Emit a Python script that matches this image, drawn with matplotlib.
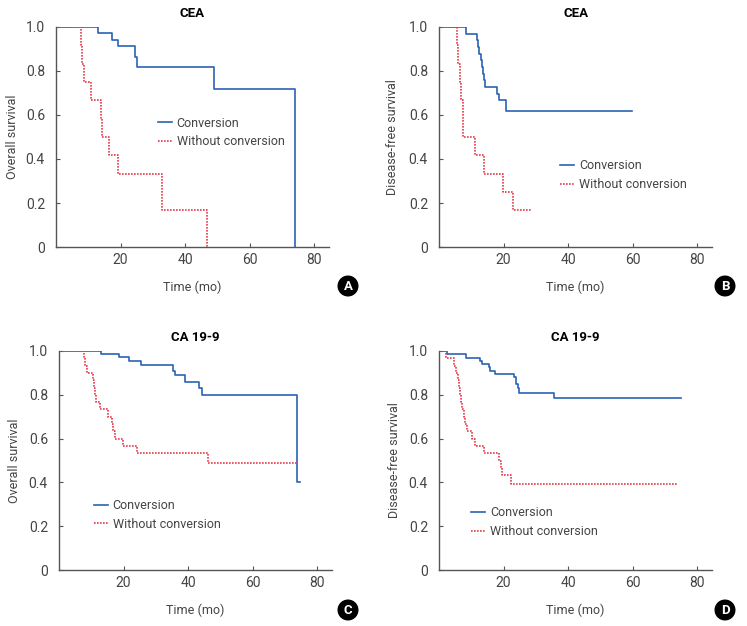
import matplotlib
matplotlib.use("Agg")
from matplotlib import pyplot as plt
from matplotlib.lines import Line2D

plt.rcParams['font.family'] = ['Roboto', 'DejaVu Sans']

# Kaplan-Meier curves (time in months, survival)
a_conv_t = [0, 12.9, 17.4, 19.2, 24.4, 25.1, 49.0, 74.0]
a_conv_s = [1.0, 0.971, 0.941, 0.912, 0.863, 0.82, 0.717, 0.0]
a_wo_t = [0, 7.6, 8.0, 8.7, 10.9, 13.8, 14.3, 16.5, 19.2, 32.8, 46.6]
a_wo_s = [1.0, 0.917, 0.833, 0.75, 0.667, 0.583, 0.5, 0.417, 0.333, 0.167, 0.0]

b_conv_t = [0, 8.3, 11.8, 12.2, 12.5, 12.9, 13.2, 13.5, 13.9, 14.2, 17.8, 18.6, 20.8, 59.8]
b_conv_s = [1.0, 0.97, 0.939, 0.909, 0.879, 0.848, 0.818, 0.788, 0.758, 0.727, 0.697, 0.667, 0.62, 0.62]
b_wo_t = [0, 5.5, 6.0, 6.5, 6.8, 7.3, 7.4, 11.2, 14.0, 19.9, 22.8, 28.8]
b_wo_s = [1.0, 0.917, 0.833, 0.75, 0.667, 0.583, 0.5, 0.417, 0.333, 0.25, 0.167, 0.167]

c_conv_t = [0, 12.9, 18.5, 21.8, 25.4, 35.3, 35.9, 38.9, 43.2, 44.4, 73.8, 74.5]
c_conv_s = [1.0, 0.986, 0.971, 0.955, 0.935, 0.91, 0.89, 0.86, 0.83, 0.80, 0.40, 0.40]
c_wo_t = [0, 7.6, 8.0, 8.6, 10.5, 10.8, 11.1, 11.5, 12.6, 15.3, 16.4, 16.8, 17.2, 19.8, 24.2, 46.2, 73.8]
c_wo_s = [1.0, 0.967, 0.933, 0.9, 0.867, 0.833, 0.8, 0.767, 0.733, 0.7, 0.667, 0.633, 0.6,
          0.567, 0.533, 0.487, 0.487]

d_conv_t = [0, 2.5, 8.3, 12.7, 13.3, 15.4, 15.7, 17.4, 23.1, 23.9, 24.5, 24.9, 35.5, 74.8]
d_conv_s = [1.0, 0.985, 0.97, 0.955, 0.94, 0.925, 0.91, 0.895, 0.88, 0.85, 0.83, 0.81, 0.785, 0.785]
d_wo_t = [0, 2.3, 4.6, 5.4, 5.8, 6.2, 6.5, 6.8, 7.0, 7.7, 8.0, 8.7, 10.1, 11.2, 13.9, 18.5,
          19.1, 19.6, 22.3, 73.6]
d_wo_s = [1.0, 0.967, 0.933, 0.9, 0.867, 0.833, 0.8, 0.767, 0.733, 0.7, 0.667, 0.633, 0.6,
          0.567, 0.533, 0.5, 0.467, 0.433, 0.393, 0.393]

titles = ['CEA', 'CEA', 'CA 19-9', 'CA 19-9']
ylabels = ['Overall survival', 'Disease-free survival', 'Overall survival', 'Disease-free survival']
letters = ['A', 'B', 'C', 'D']
series_labels = ['Conversion', 'Without conversion']
xticks = [20, 40, 60, 80]
yticks = [0, 0.2, 0.4, 0.6, 0.8, 1.0]
yticklabels = ['0', '0.2', '0.4', '0.6', '0.8', '1.0']

blue = '#2b62b5'
red = '#e63b4c'
grey = '#555555'
txt = '#444444'

curves = [(a_conv_t, a_conv_s, a_wo_t, a_wo_s),
          (b_conv_t, b_conv_s, b_wo_t, b_wo_s),
          (c_conv_t, c_conv_s, c_wo_t, c_wo_s),
          (d_conv_t, d_conv_s, d_wo_t, d_wo_s)]

W, H = 747, 626
fig = plt.figure(figsize=(W / 100, H / 100), dpi=100)

# axes boxes in pixels: left, top, right, bottom
boxes = [(56, 27, 329, 247), (439, 27, 712, 247),
         (59, 351, 332, 570), (439, 351, 712, 570)]
legend_pos = [(0.373, 0.52), (0.445, 0.326), (0.128, 0.252), (0.118, 0.218)]
ylabel_x = [-0.135, -0.147, -0.139, -0.139]
letter_pos = [(348, 286), (725, 286), (348, 610), (725, 610)]

for i in range(4):
    l, t, r, b = boxes[i]
    ax = fig.add_axes([l / W, 1 - b / H, (r - l) / W, (b - t) / H])
    ct, cs, wt, ws = curves[i]
    ax.plot(ct, cs, drawstyle='steps-post', color=blue, lw=1.2)
    ax.plot(wt, ws, drawstyle='steps-post', color=red, lw=1.2, linestyle=(0, (1, 0.8)))
    ax.set_xlim(0, 84.5)
    ax.set_ylim(0, 1.0)
    ax.set_xticks(xticks)
    ax.set_yticks(yticks)
    ax.set_yticklabels(yticklabels)
    for s in ['top', 'right']:
        ax.spines[s].set_visible(False)
    for s in ['left', 'bottom']:
        ax.spines[s].set_color(grey)
        ax.spines[s].set_linewidth(1.0)
    ax.tick_params(axis='x', direction='in', length=3, color=grey, labelsize=10,
                   labelcolor=txt, pad=4)
    ax.tick_params(axis='y', direction='in', length=3, color=grey, labelsize=10,
                   labelcolor=txt, pad=8)
    ax.set_title(titles[i], fontsize=9.5, fontweight='bold', pad=7)
    ax.set_xlabel('Time (mo)', fontsize=9, color=txt)
    ax.xaxis.set_label_coords(0.5, -0.155)
    ax.set_ylabel(ylabels[i], fontsize=9, color=txt)
    ax.yaxis.set_label_coords(ylabel_x[i], 0.5)
    handles = [Line2D([], [], color=blue, lw=1.2),
               Line2D([], [], color=red, lw=1.2, linestyle=(0, (1, 0.8)))]
    ax.legend(handles, series_labels, loc='center left', bbox_to_anchor=legend_pos[i],
              frameon=False, fontsize=9, handlelength=1.1, handletextpad=0.4,
              labelspacing=0.45, borderpad=0, borderaxespad=0, labelcolor=txt)
    lx, ly = letter_pos[i]
    fig.text(lx / W, 1 - ly / H, letters[i], color='white', fontsize=9.5, fontweight='bold',
             ha='center', va='center',
             bbox=dict(boxstyle='circle,pad=0.25', fc='black', ec='black'))

plt.savefig('out.png', dpi=100)
